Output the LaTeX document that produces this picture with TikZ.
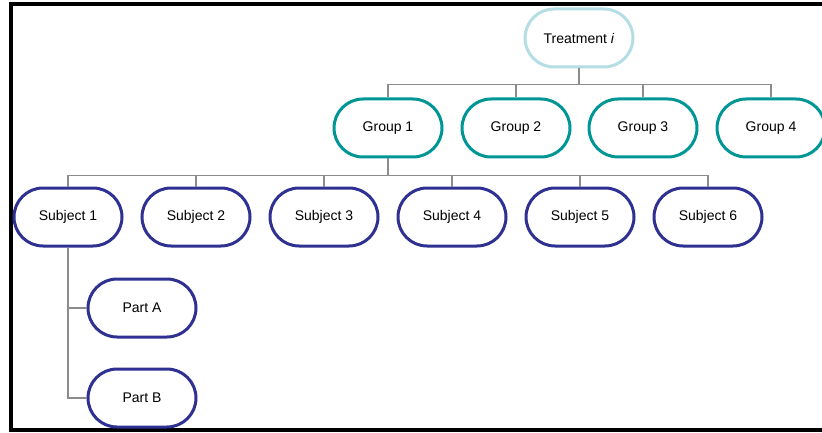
\documentclass[tikz,border=0pt]{standalone}
\usepackage{fontspec}
\setmainfont{Liberation Sans}
\usepackage{xcolor}
\usepackage{tikz}
\usetikzlibrary{positioning}

\definecolor{treatcol}{RGB}{180,222,228}
\definecolor{groupcol}{RGB}{0,150,150}
\definecolor{subjcol}{RGB}{46,49,146}
\definecolor{linkcol}{RGB}{140,140,140}

\tikzset{
  pill/.style={draw, line width=3pt, rounded corners=29pt, minimum width=108pt,
    minimum height=58pt, inner sep=0pt, font=\fontsize{14}{16}\selectfont, fill=white},
  treatbox/.style={pill, draw=treatcol},
  groupbox/.style={pill, draw=groupcol},
  subjbox/.style={pill, draw=subjcol},
  link/.style={draw=linkcol, line width=1.3pt}
}

\begin{document}
\begin{tikzpicture}[x=1pt, y=-1pt]
\clip (0,0) rectangle (822,433);

% Frame
\draw[line width=4pt] (840,4.5) -- (11,4.5) -- (11,430) -- (840,430);

% Levels
\node[treatbox] (treat) at (579,38) {Treatment \textit{i}};

\node[groupbox] (g1) at (388,128) {Group 1};
\node[groupbox] (g2) at (516,128) {Group 2};
\node[groupbox] (g3) at (643,128) {Group 3};
\node[groupbox] (g4) at (771,128) {Group 4};

\node[subjbox] (s1) at (68,217) {Subject 1};
\node[subjbox] (s2) at (196,217) {Subject 2};
\node[subjbox] (s3) at (324,217) {Subject 3};
\node[subjbox] (s4) at (452,217) {Subject 4};
\node[subjbox] (s5) at (580,217) {Subject 5};
\node[subjbox] (s6) at (708,217) {Subject 6};

\node[subjbox] (pa) at (142,308) {Part A};
\node[subjbox] (pb) at (142,398) {Part B};

% Connectors
\foreach \g in {g1,g2,g3,g4}
  \draw[link] (treat.south) -- ++(0,16) -| (\g.north);
\foreach \s in {s1,s2,s3,s4,s5,s6}
  \draw[link] (g1.south) -- ++(0,17) -| (\s.north);
\draw[link] (s1.south) |- (pa.west);
\draw[link] (s1.south) |- (pb.west);
\end{tikzpicture}
\end{document}
